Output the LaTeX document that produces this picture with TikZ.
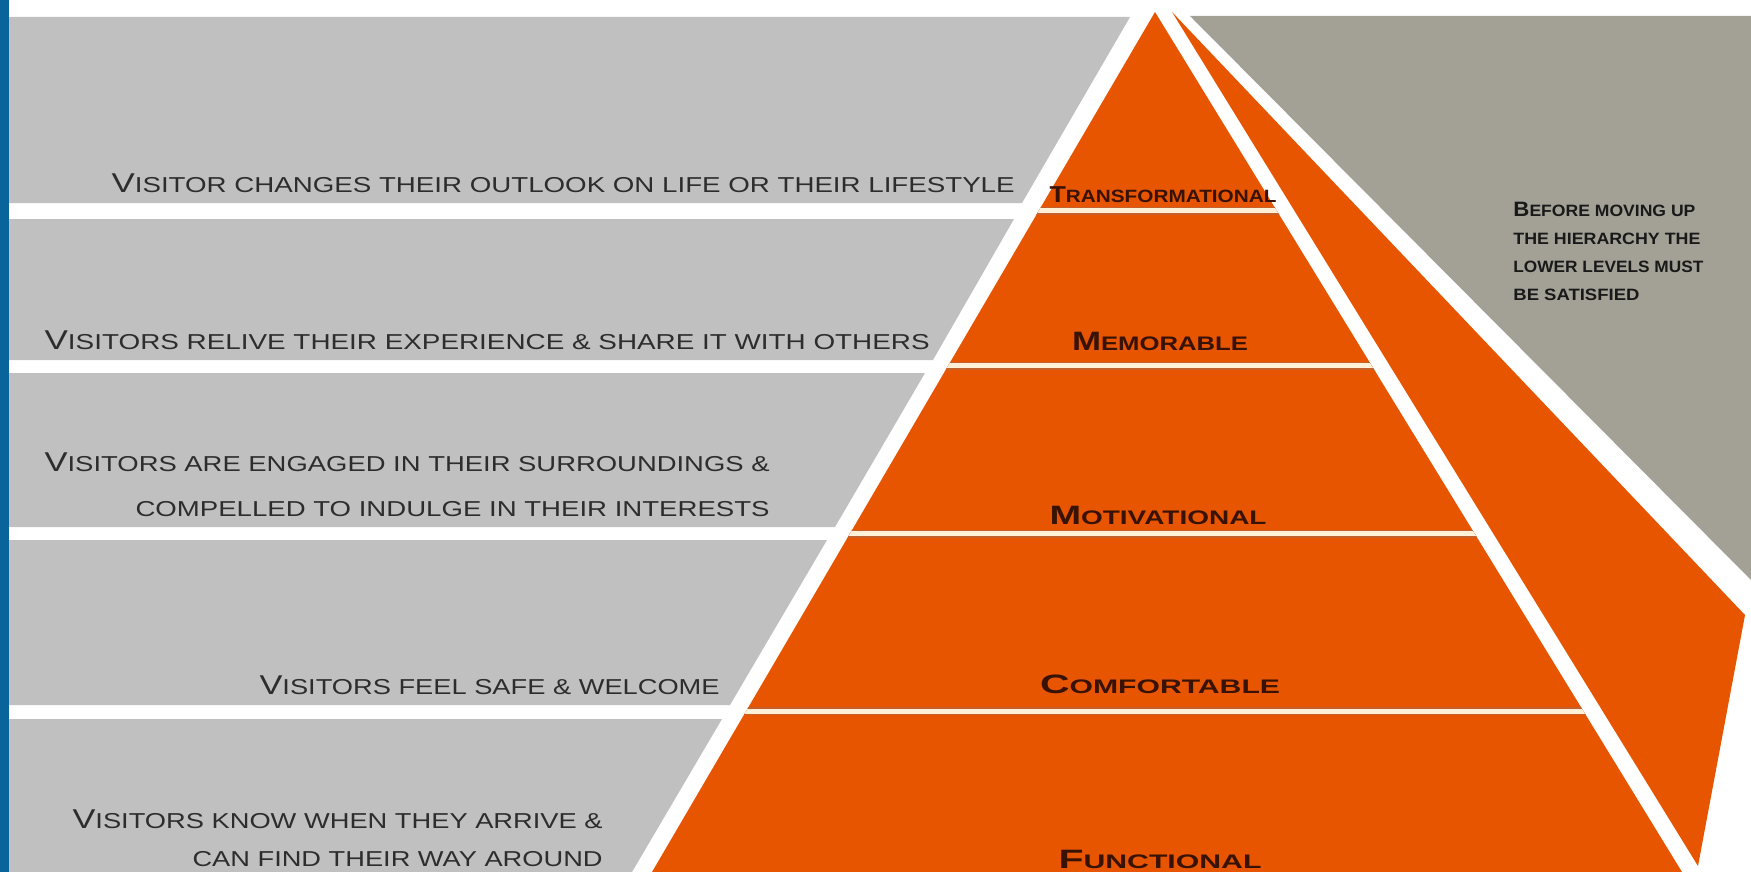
\documentclass[tikz,border=0pt]{standalone}
\usepackage{fontspec}
\usepackage{graphicx}
\setmainfont{Liberation Sans}
\newfontfamily\cpf{Liberation Sans}
\usetikzlibrary{calc}
\definecolor{bluebar}{RGB}{8,100,155}
\definecolor{lgray}{RGB}{192,192,192}
\definecolor{rgray}{RGB}{163,161,150}
\definecolor{orng}{RGB}{232,85,0}
\definecolor{cream}{RGB}{255,240,215}
\definecolor{divedge}{RGB}{196,96,44}
\definecolor{ltxt}{RGB}{45,45,45}
\definecolor{ttxt}{RGB}{55,18,5}
\definecolor{rtxt}{RGB}{25,25,25}
\newlength\pxu \setlength\pxu{0.5pt}
\newcommand\fitw[2]{\resizebox{#1\pxu}{\height}{#2}}
\newcommand\BgL[1]{{\fontsize{13.6}{14}\selectfont #1}}
\newcommand\BgT[1]{{\fontsize{13.3}{14}\selectfont #1}}
\newcommand\BgS[1]{{\fontsize{11.5}{12}\selectfont #1}}
\newcommand\BgR[1]{{\fontsize{10.4}{11}\selectfont #1}}
\tikzset{
  lefttext/.style={anchor=base east, inner sep=0pt, text=ltxt, font=\cpf\fontsize{10.8}{12}\selectfont},
  tiertext/.style={anchor=base, inner sep=0pt, text=ttxt, font=\cpf\bfseries\fontsize{9.8}{11}\selectfont},
  righttext/.style={anchor=base west, inner sep=0pt, text=rtxt, font=\cpf\bfseries\fontsize{8.2}{9}\selectfont},
  divider/.style={line width=4pt, draw=divedge},
  dividercore/.style={line width=2.5pt, draw=cream},
}
\begin{document}
\begin{tikzpicture}[x=0.5pt,y=-0.5pt]
\useasboundingbox (0,0) rectangle (1751,872);
\fill[white] (0,0) rectangle (1751,872);
\fill[bluebar] (0,0) rectangle (9,872);
% left gray bands
\fill[lgray] (9,17) -- (1130,17) -- (1022,203) -- (9,203) -- cycle;
\fill[lgray] (9,219) -- (1014,219) -- (933,360) -- (9,360) -- cycle;
\fill[lgray] (9,373) -- (925,373) -- (835,527) -- (9,527) -- cycle;
\fill[lgray] (9,540) -- (827,540) -- (730,705) -- (9,705) -- cycle;
\fill[lgray] (9,719) -- (722,719) -- (632,872) -- (9,872) -- cycle;
% right gray region
\fill[rgray] (1190,16) -- (1751,16) -- (1751,580) -- cycle;
% pyramid
\coordinate (apex) at (1155,12);
\coordinate (bl) at (652,872);
\coordinate (br) at (1682,872);
\fill[orng] (apex) -- (br) -- (bl) -- cycle;
% side face
\coordinate (stop) at (1172,12);
\coordinate (sright) at (1745,615);
\coordinate (sbot) at (1698,866);
\fill[orng] (stop) -- (sright) -- (sbot) -- cycle;
% dividers
\begin{scope}
\clip (apex) -- (br) -- (bl) -- cycle;
\foreach \yy/\nm in {211/d1,366/d2,534/d3,711/d4} {
  \coordinate (\nm l) at ($(apex)!{(\yy-12)/860}!(bl)+(-20,0)$);
  \coordinate (\nm r) at ($(apex)!{(\yy-12)/860}!(br)+(20,0)$);
  \draw[divider] (\nm l) -- (\nm r);
  \draw[dividercore] (\nm l) -- (\nm r);
}
\end{scope}
% left texts
\node[lefttext] (t1) at (1015,192) {\fitw{903}{\BgL{V}ISITOR CHANGES THEIR OUTLOOK ON LIFE OR THEIR LIFESTYLE}};
\node[lefttext] (t2) at (930,349) {\fitw{885}{\BgL{V}ISITORS RELIVE THEIR EXPERIENCE \& SHARE IT WITH OTHERS}};
\node[lefttext] (t3a) at (770,471) {\fitw{725}{\BgL{V}ISITORS ARE ENGAGED IN THEIR SURROUNDINGS \&}};
\node[lefttext] (t3b) at (770,516) {\fitw{634}{COMPELLED TO INDULGE IN THEIR INTERESTS}};
\node[lefttext] (t4) at (720,694) {\fitw{460}{\BgL{V}ISITORS FEEL SAFE \& WELCOME}};
\node[lefttext] (t5a) at (603,828) {\fitw{530}{\BgL{V}ISITORS KNOW WHEN THEY ARRIVE \&}};
\node[lefttext] (t5b) at (603,866) {\fitw{410}{CAN FIND THEIR WAY AROUND}};
% tier labels
\node[tiertext, font=\cpf\bfseries\fontsize{8.9}{10}\selectfont] (n1) at (1163,203) {\fitw{227}{\BgS{T}RANSFORMATIONAL}};
\node[tiertext] (n2) at (1160,350) {\fitw{176}{\BgT{M}EMORABLE}};
\node[tiertext] (n3) at (1158,524) {\fitw{217}{\BgT{M}OTIVATIONAL}};
\node[tiertext] (n4) at (1160,693) {\fitw{240}{\BgT{C}OMFORTABLE}};
\node[tiertext] (n5) at (1160,868) {\fitw{203}{\BgT{F}UNCTIONAL}};
% right note
\node[righttext] (r1) at (1513,216) {\fitw{182}{\BgR{B}EFORE MOVING UP}};
\node[righttext] (r2) at (1513,244) {\fitw{187}{THE HIERARCHY THE}};
\node[righttext] (r3) at (1513,272) {\fitw{190}{LOWER LEVELS MUST}};
\node[righttext] (r4) at (1513,300) {\fitw{126}{BE SATISFIED}};
\end{tikzpicture}
\end{document}
